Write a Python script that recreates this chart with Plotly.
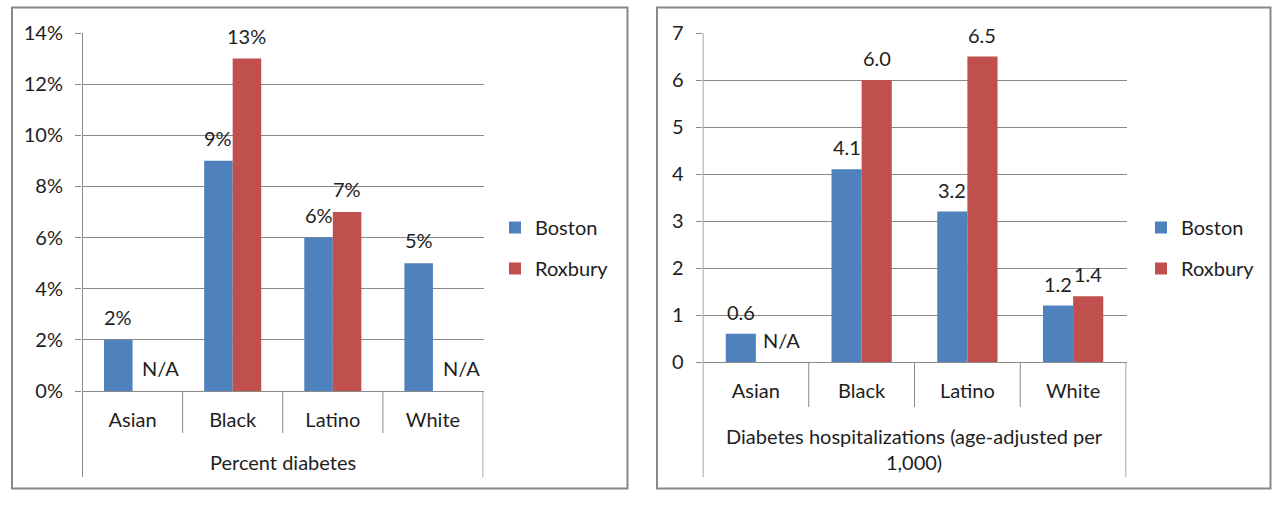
import plotly.graph_objects as go

# ---- data -------------------------------------------------------------
categories = ["Asian", "Black", "Latino", "White"]

pct_boston = [0.02, 0.09, 0.06, 0.05]
pct_roxbury = [None, 0.13, 0.07, None]

hosp_boston = [0.6, 4.1, 3.2, 1.2]
hosp_roxbury = [None, 6.0, 6.5, 1.4]

series_names = ["Boston", "Roxbury"]
pct_title = "Percent diabetes"
hosp_title = "Diabetes hospitalizations (age-adjusted per<br>1,000)"

# ---- style ------------------------------------------------------------
W, H = 1279, 508
BLUE = "#4F81BD"
RED = "#C0504D"
GRID = "#8a8a8a"
FRAME = "#878787"
TXT = "#1e1e1e"
FONT = "Lato"
FS = 20
BARGAP = 0.43


def px(x):
    return x / W


def py(y):
    return 1 - y / H


# panel geometry in pixels
left = dict(x0=82, x1=483.5, ytop=33, ybase=391, ycat=433, ybot=477,
            box=(12, 7.5, 627.5, 488.5), na_shift=14, lab_shift=23)
right = dict(x0=702.5, x1=1126.5, ytop=33, ybase=362, ycat=407, ybot=477,
             box=(657, 7.5, 1270.5, 488.5), na_shift=11, lab_shift=22)

fig = go.Figure()

panels = [
    ("x", "y", "legend", pct_boston, pct_roxbury, lambda v: f"{v:.0%}", left),
    ("x2", "y2", "legend2", hosp_boston, hosp_roxbury, lambda v: f"{v:.1f}", right),
]

annotations = []
shapes = []
txtfont = dict(family=FONT, size=FS, color=TXT)

for xa, ya, leg, boston, roxbury, fmt, g in panels:
    for name, vals, col in ((series_names[0], boston, BLUE), (series_names[1], roxbury, RED)):
        fig.add_trace(go.Bar(
            x=categories, y=vals, name=name, marker=dict(color=col, line=dict(width=0)),
            xaxis=xa, yaxis=ya, legend=leg, legendgroup=leg + name,
            hoverinfo="x+y+name",
        ))

    # value labels above bars
    half = (1 - BARGAP) / 4
    for i, cat in enumerate(categories):
        for vals, sgn in ((boston, -1), (roxbury, 1)):
            v = vals[i]
            if v is None:
                annotations.append(dict(
                    x=i + sgn * half, y=0, xref=xa, yref=ya, text="N/A",
                    showarrow=False, xanchor="center", yanchor="middle",
                    yshift=g["lab_shift"], xshift=g["na_shift"], font=txtfont))
            else:
                annotations.append(dict(
                    x=i + sgn * half, y=v, xref=xa, yref=ya, text=fmt(v),
                    showarrow=False, xanchor="center", yanchor="middle",
                    yshift=g["lab_shift"], font=txtfont))

    # category dividers and outer grouping bracket
    for k in range(5):
        xb = k - 0.5
        outer = k in (0, 4)
        shapes.append(dict(
            type="line", xref=xa, yref="paper", x0=xb, x1=xb,
            y0=py(g["ybot"] if outer else g["ycat"]),
            y1=py(g["ytop"] if k == 0 else g["ybase"]),
            line=dict(color=GRID, width=1)))

    # panel frame
    bx0, by0, bx1, by1 = g["box"]
    shapes.append(dict(type="rect", xref="paper", yref="paper",
                       x0=px(bx0), x1=px(bx1), y0=py(by1), y1=py(by0),
                       line=dict(color=FRAME, width=2), layer="below"))

# outer category titles
annotations.append(dict(x=(left["x0"] + left["x1"]) / 2 / W, y=py(462), xref="paper", yref="paper",
                        text=pct_title, showarrow=False, xanchor="center", yanchor="middle",
                        font=txtfont))
annotations.append(dict(x=(right["x0"] + right["x1"]) / 2 / W, y=py(449), xref="paper", yref="paper",
                        text=hosp_title, showarrow=False, xanchor="center", yanchor="middle",
                        align="center", font=txtfont))

axis_common = dict(showgrid=False, zeroline=False, showline=False, ticks="",
                   automargin=False, tickfont=txtfont, fixedrange=True)
yaxis_common = dict(showgrid=True, gridcolor=GRID, gridwidth=1, zeroline=True,
                    zerolinecolor=GRID, zerolinewidth=1, showline=False,
                    ticks="outside", ticklen=6, tickcolor=GRID,
                    ticklabelstandoff=8, automargin=False,
                    tickfont=txtfont, fixedrange=True)

legend_common = dict(font=txtfont, bgcolor="rgba(0,0,0,0)",
                     tracegroupgap=12, itemclick=False, itemdoubleclick=False,
                     xanchor="left", yanchor="top", yref="paper", xref="paper")

fig.update_layout(
    template="none",
    width=W, height=H, margin=dict(l=0, r=0, t=0, b=0, pad=0, autoexpand=False),
    paper_bgcolor="white", plot_bgcolor="white",
    barmode="group", bargap=BARGAP, bargroupgap=0,
    font=txtfont,
    xaxis=dict(domain=[px(left["x0"]), px(left["x1"])], anchor="y",
               ticklabelstandoff=15, **axis_common),
    yaxis=dict(domain=[py(left["ybase"]), py(left["ytop"])], anchor="x",
               range=[0, 0.14], dtick=0.02, tickformat=".0%", **yaxis_common),
    xaxis2=dict(domain=[px(right["x0"]), px(right["x1"])], anchor="y2",
                ticklabelstandoff=15, **axis_common),
    yaxis2=dict(domain=[py(right["ybase"]), py(right["ytop"])], anchor="x2",
                range=[0, 7], dtick=1, **yaxis_common),
    legend=dict(x=px(495), y=py(208), **legend_common),
    legend2=dict(x=px(1141), y=py(208), **legend_common),
    annotations=annotations,
    shapes=shapes,
    showlegend=True,
)

fig.write_html("out.html")
